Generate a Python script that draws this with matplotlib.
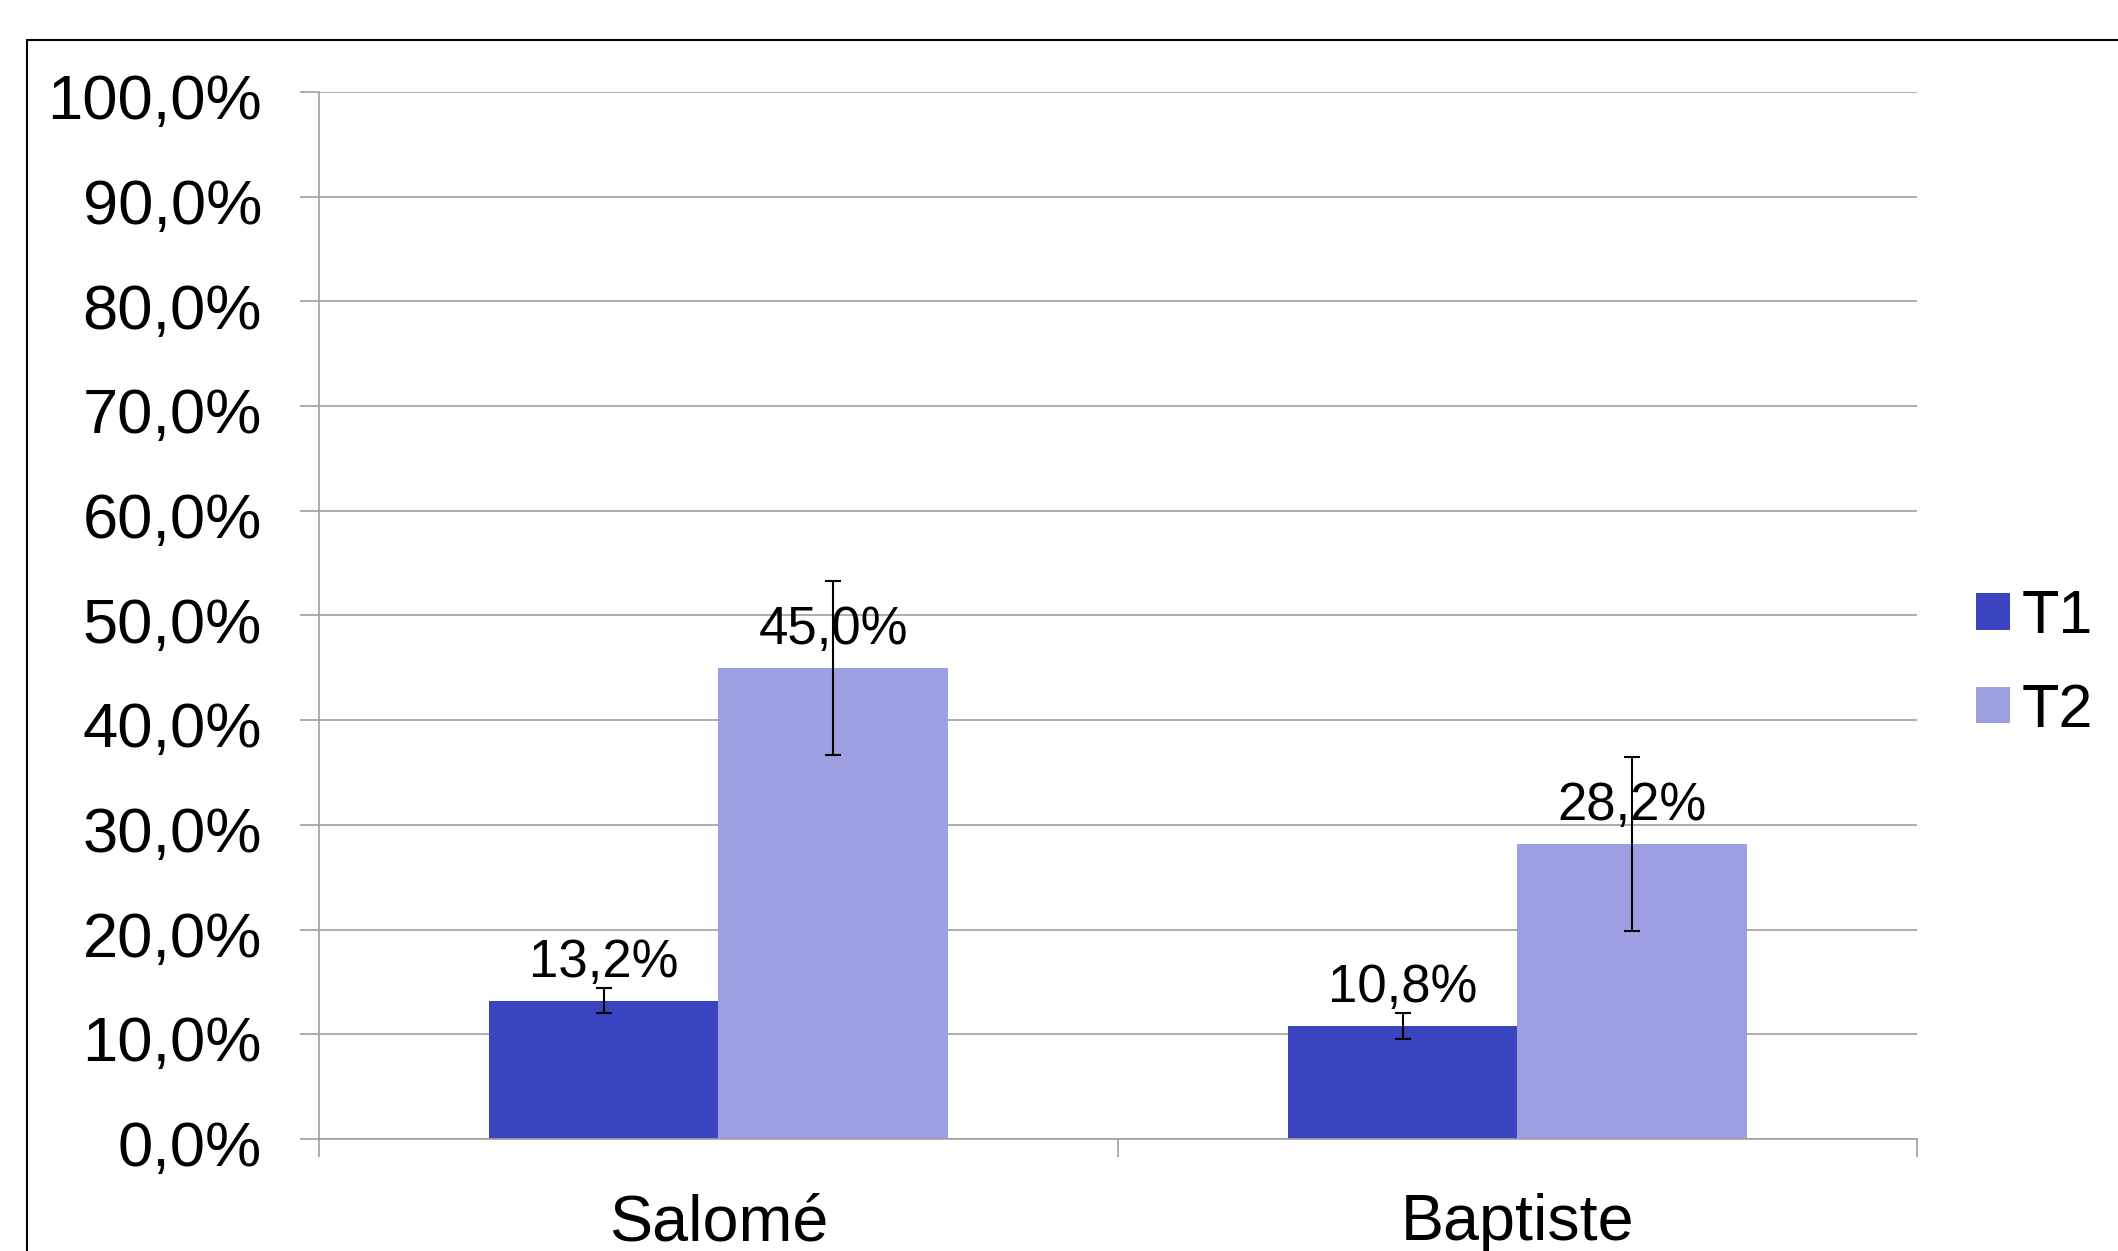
import numpy as np
import matplotlib
matplotlib.use('Agg')
import matplotlib.pyplot as plt
import matplotlib.patches as patches
import matplotlib.transforms as mtransforms

plt.rcParams['font.family'] = ['Liberation Sans', 'DejaVu Sans']

# data
categories = ['Salomé', 'Baptiste']
series = ['T1', 'T2']
t1_values = [13.2, 10.8]
t2_values = [45.0, 28.2]
t1_err = [1.2, 1.2]
t2_err = [8.3, 8.3]
yticks = [0, 10, 20, 30, 40, 50, 60, 70, 80, 90, 100]

COLOR = {'T1': '#3A44C0', 'T2': '#9DA0E0', 'grid': '#A0A0A0'}
BARW = 0.287

fig = plt.figure(figsize=(21.18, 12.51), dpi=100)
ax = fig.add_axes([0.1506, 0.0895, 0.9051 - 0.1506, 0.9265 - 0.0895])

x = np.arange(len(categories))
errstyle = dict(ecolor='black', elinewidth=1.5, capsize=6, capthick=1.5)
b1 = ax.bar(x - BARW / 2, t1_values, BARW, color=COLOR['T1'], yerr=t1_err,
            error_kw=errstyle, label=series[0], zorder=2)
b2 = ax.bar(x + BARW / 2, t2_values, BARW, color=COLOR['T2'], yerr=t2_err,
            error_kw=errstyle, label=series[1], zorder=2)

for bars, vals in ((b1, t1_values), (b2, t2_values)):
    for rect, v in zip(bars, vals):
        ax.annotate(('%.1f%%' % v).replace('.', ','),
                    (rect.get_x() + rect.get_width() / 2, v),
                    xytext=(0, 17), textcoords='offset points',
                    ha='center', va='baseline', fontsize=38, zorder=4)

ax.set_xlim(-0.5, len(categories) - 0.5)
ax.set_ylim(0, 100)
ax.set_yticks(yticks)
ax.set_yticklabels([('%.1f%%' % v).replace('.', ',') for v in yticks], fontsize=45.5)
ax.yaxis.grid(True, color=COLOR['grid'], lw=1.2, zorder=0)
ax.set_axisbelow(True)
ax.tick_params(axis='y', length=14, width=1.2, color=COLOR['grid'], pad=27)
shift = mtransforms.ScaledTranslation(0, -3 / 72, fig.dpi_scale_trans)
for lab in ax.get_yticklabels():
    lab.set_transform(lab.get_transform() + shift)

# ticks at category boundaries, labels at centres
ax.set_xticks(np.arange(-0.5, len(categories)), labels=[''] * (len(categories) + 1))
ax.set_xticks(x, labels=categories, minor=True)
ax.tick_params(axis='x', which='major', length=13, width=1.2, color=COLOR['grid'])
ax.tick_params(axis='x', which='minor', length=0, labelsize=46.5, pad=39)

for s in ('top', 'right'):
    ax.spines[s].set_visible(False)
for s in ('left', 'bottom'):
    ax.spines[s].set_color(COLOR['grid'])
    ax.spines[s].set_linewidth(1.2)

leg = ax.legend(loc='center left', bbox_to_anchor=(0.933, 0.469),
                bbox_transform=fig.transFigure, frameon=False, fontsize=44,
                handlelength=0.55, handleheight=0.55, handletextpad=0.2,
                labelspacing=0.6, borderpad=0, borderaxespad=0)

# outer frame, running off the right and bottom edges
fig.patches.append(patches.Rectangle((27 / 2118, -0.2), 1.2, 0.2 + 1 - 40 / 1251,
                                     transform=fig.transFigure, fill=False,
                                     edgecolor='black', lw=1.5))

fig.savefig('out.png', dpi=100, facecolor='white')
